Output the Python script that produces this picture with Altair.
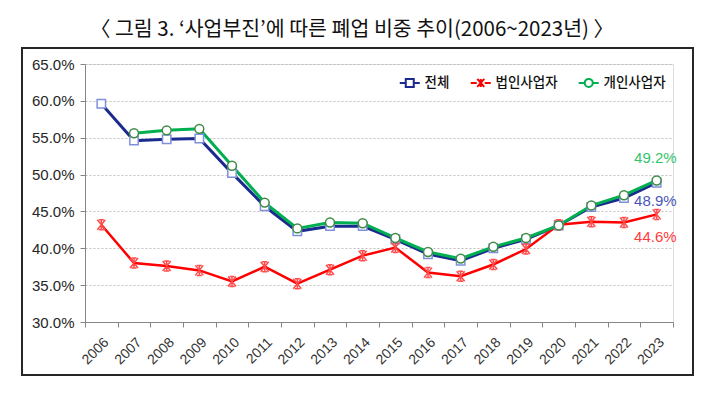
import altair as alt
import pandas as pd

# ---- data ----
years = list(range(2006, 2024))
total = [59.6, 54.6, 54.8, 54.9, 50.2, 45.7, 42.3, 43.0, 43.0, 41.2, 39.2, 38.3, 40.0, 41.2, 43.1, 45.6, 46.8, 48.9]
corp = [43.2, 38.0, 37.6, 37.0, 35.5, 37.5, 35.2, 37.1, 39.0, 40.1, 36.7, 36.2, 37.8, 39.9, 43.2, 43.6, 43.5, 44.6]
indiv = [None, 55.6, 56.0, 56.2, 51.2, 46.2, 42.7, 43.5, 43.4, 41.4, 39.5, 38.6, 40.2, 41.4, 43.1, 45.8, 47.2, 49.2]
series_names = ["전체", "법인사업자", "개인사업자"]
y_ticks = [30, 35, 40, 45, 50, 55, 60, 65]
title_text = "〈 그림 3. ‘사업부진’에 따른 폐업 비중 추이(2006~2023년) 〉"

# ---- styles ----
line_colors = ["#1B2A8F", "#FF0000", "#00B050"]
line_widths = [3, 2.5, 3]
label_colors = ["#4B55B8", "#FF3B3B", "#33C46A"]
label_dy = [18, 23, -22]
marker_paths = [
    "M-0.8,-0.8H0.8V0.8H-0.8Z",
    "M-0.8,-1L0.8,1M-0.8,1L0.8,-1M0,-1V1M-0.5,-1H0.5M-0.5,1H0.5",
    "M-0.85,0A0.85,0.85,0,1,0,0.85,0A0.85,0.85,0,1,0,-0.85,0Z",
]
marker_strokes = ["#7F8FDB", "#FF4D4D", "#3F8A45"]
marker_sizes = [110, 100, 110]
legend_paths = [
    "M-2,0H-0.8M0.8,0H2M-0.8,-0.8H0.8V0.8H-0.8Z",
    "M-2,0H-0.8M0.8,0H2M-0.7,-0.8L0.7,0.8M-0.7,0.8L0.7,-0.8M0,-0.8V0.8",
    "M-2,0H-0.8M0.8,0H2M-0.8,0A0.8,0.8,0,1,0,0.8,0A0.8,0.8,0,1,0,-0.8,0Z",
]

rows = []
for name, vals in zip(series_names, [total, corp, indiv]):
    for yr, v in zip(years, vals):
        if v is not None:
            rows.append({"year": yr, "series": name, "value": v})
df = pd.DataFrame(rows)

x_enc = alt.X(
    "year:O",
    scale=alt.Scale(type="band", paddingInner=0, paddingOuter=0),
    axis=alt.Axis(
        title=None, tickBand="extent", labelAngle=315, labelFontSize=14,
        labelFont="Liberation Sans", labelColor="#333333", tickSize=5,
        tickColor="#868686", domainColor="#868686", labelPadding=8, grid=False,
    ),
)
y_enc = alt.Y(
    "value:Q",
    scale=alt.Scale(domain=[30, 65], nice=False, zero=False),
    axis=alt.Axis(
        title=None, values=y_ticks, labelExpr="format(datum.value,'.1f')+'%'",
        grid=True, gridDash=[2, 2], gridColor="#BFBFBF", tickSize=5,
        tickColor="#868686", domainColor="#868686", labelFontSize=15,
        labelFont="Liberation Sans", labelColor="#262626", labelPadding=6,
    ),
)

base = alt.Chart(df)
layers = []
for name, c, w in zip(series_names, line_colors, line_widths):
    layers.append(
        base.transform_filter(alt.datum.series == name)
        .mark_line(color=c, strokeWidth=w)
        .encode(x=x_enc, y=y_enc)
    )
for name, p, s, sz in zip(series_names, marker_paths, marker_strokes, marker_sizes):
    layers.append(
        base.transform_filter(alt.datum.series == name)
        .mark_point(shape=p, stroke=s, fill="white", filled=False, fillOpacity=1,
                    strokeWidth=1.5, size=sz, opacity=1)
        .encode(x=x_enc, y=y_enc)
    )
for name, lc, dy in zip(series_names, label_colors, label_dy):
    layers.append(
        base.transform_filter((alt.datum.series == name) & (alt.datum.year == 2023))
        .transform_calculate(label="format(datum.value,'.1f')+'%'")
        .mark_text(align="right", dx=20, dy=dy, fontSize=15, font="Liberation Sans", color=lc)
        .encode(x=x_enc, y=y_enc, text="label:N")
    )

# legend-only layer
layers.append(
    base.transform_filter("false")
    .mark_point(filled=False, opacity=1, strokeWidth=2)
    .encode(
        x=x_enc, y=y_enc,
        color=alt.Color("series:N", scale=alt.Scale(domain=series_names, range=line_colors),
                        legend=alt.Legend(
                            orient="none", legendX=318, legendY=12, direction="horizontal",
                            title=None, labelFont="Noto Sans CJK KR", labelFontSize=13.5,
                            labelFontWeight=500,
                            labelColor="#111111", symbolSize=100, symbolStrokeWidth=2,
                            labelOffset=8, columnPadding=16)),
        shape=alt.Shape("series:N", scale=alt.Scale(domain=series_names, range=legend_paths)),
    )
)

frame = alt.Chart(pd.DataFrame({"a": [0]})).mark_rect(
    fillOpacity=0, stroke="#262626", strokeWidth=2
).encode(x=alt.value(-63), x2=alt.value(608), y=alt.value(-16), y2=alt.value(311))
layers.append(frame)

chart = alt.layer(*layers).properties(
    width=588, height=258,
    padding={"left": 77, "top": 56, "right": 22, "bottom": 56},
    autosize=alt.AutoSizeParams(type="none"),
    title=alt.TitleParams(text=title_text, font="Noto Sans CJK KR", fontSize=20.5,
                          fontWeight="normal", color="#111111", anchor="middle",
                          frame="group", dx=-27, offset=7),
).configure_view(stroke=None).configure(background="white")

chart.save("out.html", embed_options={"renderer": "svg", "actions": False})
